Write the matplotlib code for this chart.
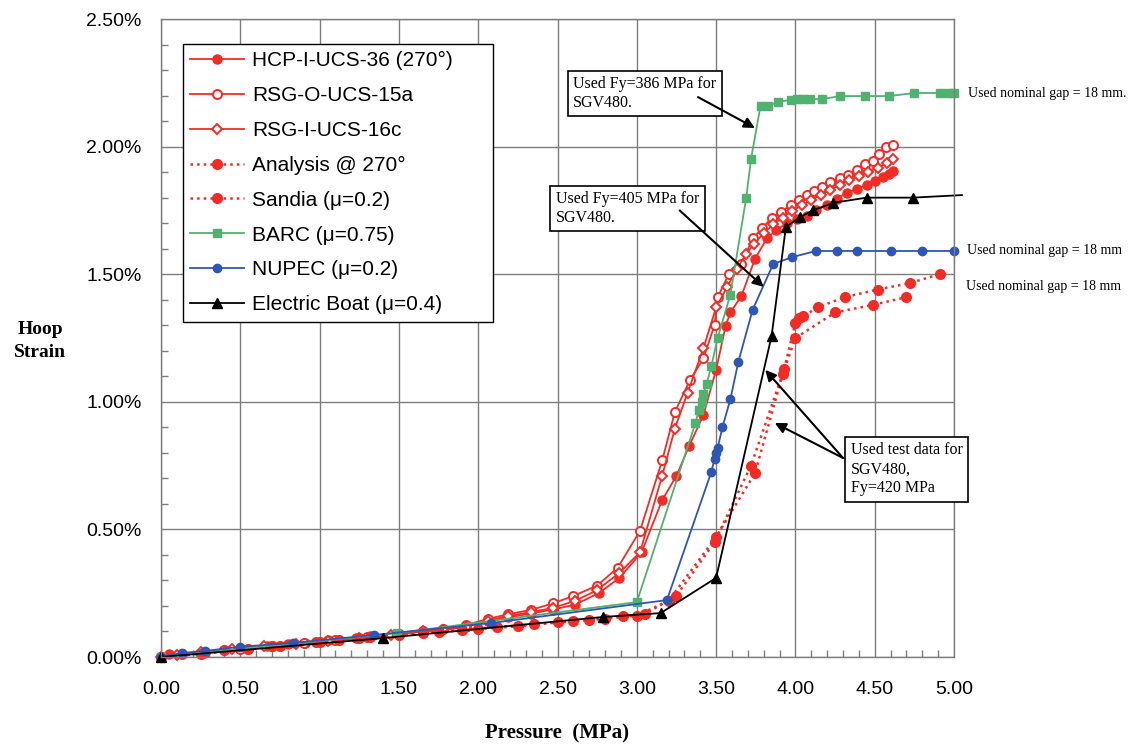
import matplotlib
matplotlib.use("Agg")
import matplotlib.pyplot as plt
from matplotlib.ticker import MultipleLocator, FuncFormatter

# ---- data: pressure (MPa) vs hoop strain (%) ----
hcp_x = [0.00, 0.05, 0.27, 0.40, 0.55, 0.67, 0.80, 0.91, 1.05, 1.23, 1.32, 1.50, 1.65, 1.78, 1.92,
         2.06, 2.19, 2.33, 2.47, 2.61, 2.76, 2.89, 3.03, 3.16, 3.25, 3.33, 3.42, 3.50, 3.56, 3.59,
         3.66, 3.745, 3.82, 3.88, 3.95, 4.01, 4.07, 4.13, 4.20, 4.26, 4.325, 4.39, 4.45, 4.50,
         4.55, 4.59, 4.615]
hcp_y = [0.000, 0.010, 0.014, 0.027, 0.030, 0.043, 0.050, 0.055, 0.067, 0.074, 0.082, 0.090, 0.100,
         0.108, 0.118, 0.140, 0.155, 0.170, 0.186, 0.205, 0.250, 0.310, 0.410, 0.615, 0.710, 0.827,
         0.948, 1.125, 1.297, 1.350, 1.415, 1.560, 1.640, 1.675, 1.700, 1.715, 1.730, 1.750, 1.770,
         1.795, 1.820, 1.835, 1.850, 1.865, 1.880, 1.893, 1.905]

rsgo_x = [0.00, 0.13, 0.28, 0.50, 0.70, 0.90, 1.10, 1.30, 1.50, 1.65, 1.78, 1.92, 2.06, 2.19, 2.33,
          2.47, 2.60, 2.75, 2.88, 3.02, 3.16, 3.24, 3.335, 3.42, 3.49, 3.51, 3.58, 3.66, 3.73, 3.79,
          3.85, 3.91, 3.97, 4.02, 4.07, 4.12, 4.17, 4.22, 4.28, 4.33, 4.39, 4.44, 4.49, 4.53, 4.57,
          4.615]
rsgo_y = [0.000, 0.010, 0.020, 0.030, 0.045, 0.055, 0.065, 0.080, 0.090, 0.100, 0.110, 0.125, 0.149,
          0.168, 0.184, 0.210, 0.239, 0.280, 0.350, 0.494, 0.770, 0.960, 1.085, 1.170, 1.300, 1.410,
          1.500, 1.540, 1.640, 1.680, 1.720, 1.745, 1.770, 1.790, 1.810, 1.825, 1.840, 1.860, 1.875,
          1.890, 1.910, 1.930, 1.945, 1.970, 2.000, 2.006]

rsgi_x = [0.00, 0.10, 0.25, 0.45, 0.65, 0.85, 1.05, 1.25, 1.45, 1.65, 1.78, 1.92, 2.06, 2.19, 2.33,
          2.47, 2.61, 2.75, 2.89, 3.02, 3.16, 3.24, 3.32, 3.42, 3.50, 3.57, 3.63, 3.69, 3.74, 3.80,
          3.86, 3.92, 3.98, 4.04, 4.10, 4.16, 4.22, 4.28, 4.34, 4.40, 4.46, 4.52, 4.58, 4.615]
rsgi_y = [0.000, 0.008, 0.018, 0.030, 0.042, 0.052, 0.063, 0.075, 0.088, 0.100, 0.106, 0.118, 0.143,
          0.160, 0.176, 0.192, 0.220, 0.262, 0.330, 0.410, 0.710, 0.895, 1.035, 1.210, 1.370, 1.450,
          1.520, 1.580, 1.620, 1.660, 1.695, 1.722, 1.748, 1.770, 1.790, 1.810, 1.830, 1.850, 1.868,
          1.885, 1.900, 1.918, 1.935, 1.950]

ana_x = [0.00, 0.25, 0.55, 0.75, 1.00, 1.25, 1.50, 1.75, 2.00, 2.25, 2.50, 2.70, 2.91, 3.05, 3.25,
         3.49, 3.72, 3.92, 4.00, 4.25, 4.49, 4.70]
ana_y = [0.000, 0.012, 0.030, 0.045, 0.060, 0.075, 0.085, 0.097, 0.110, 0.120, 0.137, 0.145, 0.160,
         0.168, 0.240, 0.450, 0.750, 1.110, 1.250, 1.350, 1.380, 1.410]

san_x = [0.00, 0.40, 0.70, 0.98, 1.12, 1.32, 1.65, 1.90, 2.12, 2.35, 2.60, 2.80, 3.00, 3.20, 3.50,
         3.745, 3.93, 4.00, 4.02, 4.05, 4.14, 4.31, 4.52, 4.72, 4.91]
san_y = [0.000, 0.027, 0.043, 0.059, 0.067, 0.080, 0.095, 0.105, 0.118, 0.128, 0.140, 0.150, 0.162,
         0.220, 0.470, 0.720, 1.130, 1.310, 1.330, 1.335, 1.370, 1.410, 1.440, 1.465, 1.500]

barc_x = [0.00, 1.49, 3.00, 3.37, 3.39, 3.41, 3.42, 3.44, 3.47, 3.51, 3.59, 3.69, 3.72, 3.78, 3.83,
          3.89, 3.97, 4.01, 4.05, 4.09, 4.17, 4.28, 4.44, 4.59, 4.75, 4.91, 4.96, 5.00]
barc_y = [0.000, 0.094, 0.215, 0.917, 0.968, 1.000, 1.030, 1.070, 1.140, 1.250, 1.420, 1.800, 1.950,
          2.160, 2.160, 2.175, 2.183, 2.186, 2.186, 2.186, 2.186, 2.198, 2.198, 2.198, 2.210, 2.210,
          2.210, 2.210]

nup_x = [0.00, 0.13, 0.28, 0.50, 0.83, 1.34, 2.08, 3.19, 3.47, 3.49, 3.50, 3.51, 3.54, 3.59, 3.64,
         3.73, 3.86, 3.98, 4.13, 4.26, 4.39, 4.60, 4.80, 5.00]
nup_y = [0.000, 0.016, 0.024, 0.040, 0.055, 0.086, 0.133, 0.223, 0.725, 0.776, 0.800, 0.820, 0.900,
         1.010, 1.156, 1.360, 1.540, 1.567, 1.591, 1.591, 1.591, 1.591, 1.591, 1.591]

eb_x = [0.00, 1.40, 2.79, 3.15, 3.50, 3.85, 3.94, 4.03, 4.11, 4.24, 4.45, 4.74, 5.05]
eb_y = [0.000, 0.074, 0.157, 0.172, 0.310, 1.258, 1.685, 1.724, 1.750, 1.780, 1.800, 1.800, 1.810]

labels = ["HCP-I-UCS-36 (270°)", "RSG-O-UCS-15a", "RSG-I-UCS-16c", "Analysis @ 270°",
          "Sandia (μ=0.2)", "BARC (μ=0.75)", "NUPEC (μ=0.2)", "Electric Boat (μ=0.4)"]

RED = "#f42a24"
GREEN = "#4fb26f"
BLUE = "#2e56b4"
GRID = "#7d7d7d"

fig = plt.figure(figsize=(11.32, 7.45), dpi=100)
ax = fig.add_axes([161 / 1132, 1 - 657 / 745, 793 / 1132, 638 / 745])

common = dict(clip_on=False)
ax.plot(hcp_x, hcp_y, "-", color=RED, lw=1.3, marker="o", ms=6.5, mfc=RED, mec=RED,
        label=labels[0], **common)
ax.plot(rsgo_x, rsgo_y, "-", color=RED, lw=1.3, marker="o", ms=6.5, mfc="white", mec=RED,
        mew=1.4, label=labels[1], **common)
ax.plot(rsgi_x, rsgi_y, "-", color=RED, lw=1.3, marker="D", ms=5.0, mfc="white", mec=RED,
        mew=1.4, label=labels[2], **common)
ax.plot(ana_x, ana_y, ":", color=RED, lw=1.8, marker="o", ms=7, mfc=RED, mec=RED,
        label=labels[3], **common)
ax.plot(san_x, san_y, ":", color=RED, lw=1.8, marker="o", ms=7, mfc=RED, mec=RED,
        label=labels[4], **common)
ax.plot(barc_x, barc_y, "-", color=GREEN, lw=1.3, marker="s", ms=6, mfc=GREEN, mec=GREEN,
        label=labels[5], **common)
ax.plot(nup_x, nup_y, "-", color=BLUE, lw=1.3, marker="o", ms=6, mfc=BLUE, mec=BLUE,
        label=labels[6], **common)
ax.plot(eb_x, eb_y, "-", color="black", lw=1.3, marker="^", ms=7, mfc="black", mec="black",
        markevery=list(range(len(eb_x) - 1)), label=labels[7], **common)

# axes, ticks, grid
ax.set_xlim(0, 5)
ax.set_ylim(0, 2.5)
ax.xaxis.set_major_locator(MultipleLocator(0.5))
ax.xaxis.set_minor_locator(MultipleLocator(0.1))
ax.yaxis.set_major_locator(MultipleLocator(0.5))
ax.yaxis.set_minor_locator(MultipleLocator(0.1))
ax.xaxis.set_major_formatter(FuncFormatter(lambda v, p: f"{v:.2f}"))
ax.yaxis.set_major_formatter(FuncFormatter(lambda v, p: f"{v:.2f}%"))
ax.tick_params(which="both", direction="in", colors=GRID, labelcolor="black",
               labelsize=14, top=False, right=False)
ax.tick_params(which="major", length=0)
ax.tick_params(which="minor", length=5, width=1)
ax.tick_params(axis="x", which="major", pad=17)
ax.tick_params(axis="y", which="major", pad=14)
for lab in ax.get_xticklabels() + ax.get_yticklabels():
    lab.set_family(["Liberation Sans", "DejaVu Sans"])
ax.grid(True, which="major", color=GRID, lw=1.0)
for s in ax.spines.values():
    s.set_color(GRID)
    s.set_linewidth(1.0)
ax.set_axisbelow(True)

serif = ["Liberation Serif", "DejaVu Serif"]
fig.text(557 / 1132, 1 - 733 / 745, "Pressure  (MPa)", ha="center", va="center",
         fontsize=15, fontweight="bold", family=serif)
fig.text(40 / 1132, 1 - 341 / 745, "Hoop\nStrain", ha="center", va="center",
         fontsize=14, fontweight="bold", family=serif, linespacing=1.5)

# legend box spans a fixed width; entries sit at its left side
leg_x0, leg_top, leg_w = 183 / 1132, 1 - 44 / 745, (493 - 183) / 1132
leg = ax.legend(loc="upper left", bbox_to_anchor=(leg_x0, leg_top - 0.5, leg_w, 0.5),
                bbox_transform=fig.transFigure, mode="expand", borderaxespad=0,
                fancybox=False, edgecolor="black", framealpha=1, handlelength=2.6,
                handletextpad=0.35, labelspacing=0.76, borderpad=0.35,
                prop={"family": ["Liberation Sans", "DejaVu Sans"], "size": 15})
leg.get_frame().set_linewidth(1.0)

# annotation boxes
box = dict(boxstyle="square,pad=0.35", fc="white", ec="black", lw=1.2)
arrow = dict(arrowstyle="-|>", color="black", lw=1.5, mutation_scale=16, shrinkA=0, shrinkB=0)
afont = dict(fontsize=11.5, family=serif, ha="left", va="center")

ax.text(2.60, 2.208, "Used Fy=386 MPa for\nSGV480.", bbox=box, **afont)
ax.annotate("", xy=(3.745, 2.073), xytext=(3.386, 2.194), arrowprops=arrow)

ax.text(2.49, 1.757, "Used Fy=405 MPa for\nSGV480.", bbox=box, **afont)
ax.annotate("", xy=(3.80, 1.45), xytext=(3.27, 1.75), arrowprops=arrow)

ax.text(4.35, 0.735, "Used test data for\nSGV480,\nFy=420 MPa", bbox=box, linespacing=1.25,
        **afont)
ax.annotate("", xy=(3.81, 1.125), xytext=(4.30, 0.78), arrowprops=arrow)
ax.annotate("", xy=(3.87, 0.917), xytext=(4.30, 0.78), arrowprops=arrow)

gap = dict(fontsize=10, family=serif, ha="left", va="center", clip_on=False)
ax.text(5.09, 2.21, "Used nominal gap = 18 mm.", **gap)
ax.text(5.085, 1.591, "Used nominal gap = 18 mm", **gap)
ax.text(5.075, 1.45, "Used nominal gap = 18 mm", **gap)

fig.savefig("out.png", dpi=100, facecolor="white")
